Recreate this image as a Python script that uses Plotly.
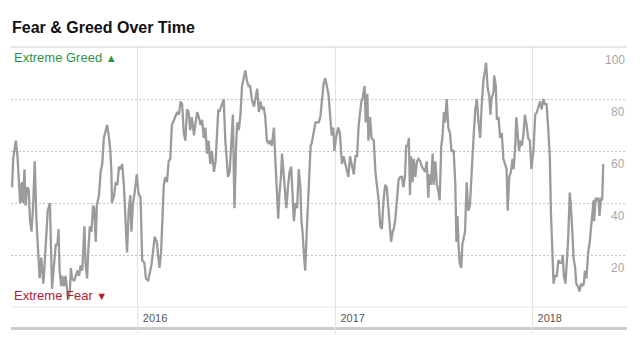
import plotly.graph_objects as go

# Fear & Greed index readings (month-day, value) grouped by year
days_2015 = ["05-13", "05-15", "05-20", "05-23", "05-26", "05-28", "05-31", "06-02", "06-05", "06-07",
             "06-10", "06-13", "06-15", "06-18", "06-21", "06-24", "06-27", "07-01", "07-03", "07-06",
             "07-08", "07-10", "07-13", "07-15", "07-18", "07-22", "07-24", "07-26", "07-30", "08-02",
             "08-05", "08-07", "08-09", "08-12", "08-14", "08-17", "08-20", "08-23", "08-25", "08-28",
             "08-30", "09-01", "09-05", "09-08", "09-11", "09-14", "09-17", "09-20", "09-24", "09-26",
             "09-29", "10-01", "10-04", "10-07", "10-10", "10-12", "10-15", "10-17", "10-21", "10-24",
             "10-27", "10-30", "11-03", "11-05", "11-08", "11-11", "11-13", "11-14", "11-18", "11-21",
             "11-24", "11-27", "11-30", "12-03", "12-06", "12-09", "12-12", "12-15", "12-18", "12-20",
             "12-23", "12-26", "12-30"]
fng_2015 = [46, 57, 64, 58, 47, 40, 48, 40, 53, 39,
            46, 45, 34, 29, 39, 56, 34, 20, 11, 19,
            14, 9, 19, 28, 37, 40, 24, 7, 17, 24,
            24, 30, 14, 8, 12, 8, 12, 7, 3, 6,
            15, 11, 10, 12, 14, 12, 16, 14, 31, 17,
            11, 21, 31, 29, 39, 38, 25, 39, 43, 52,
            55, 65, 68, 70, 66, 60, 52, 40, 43, 48,
            47, 54, 53, 55, 47, 31, 21, 37, 43, 29,
            40, 44, 51]

days_2016 = ["01-02", "01-06", "01-09", "01-13", "01-16", "01-20", "01-24", "01-26", "01-29", "02-01",
             "02-05", "02-08", "02-10", "02-13", "02-15", "02-18", "02-21", "02-24", "02-27", "03-01",
             "03-04", "03-08", "03-11", "03-14", "03-17", "03-20", "03-23", "03-26", "03-29", "04-01",
             "04-04", "04-07", "04-10", "04-14", "04-17", "04-20", "04-23", "04-26", "04-29", "05-02",
             "05-05", "05-08", "05-11", "05-14", "05-17", "05-21", "05-24", "05-27", "05-29", "05-31",
             "06-03", "06-05", "06-08", "06-11", "06-14", "06-16", "06-19", "06-21", "06-23", "06-25",
             "06-27", "06-28", "07-01", "07-03", "07-06", "07-09", "07-12", "07-16", "07-18", "07-21",
             "07-24", "07-27", "07-30", "08-03", "08-06", "08-09", "08-12", "08-15", "08-18", "08-21",
             "08-24", "08-27", "08-30", "09-02", "09-05", "09-09", "09-12", "09-15", "09-17", "09-19",
             "09-22", "09-24", "09-27", "09-30", "10-02", "10-05", "10-08", "10-11", "10-14", "10-16",
             "10-19", "10-22", "10-25", "10-28", "10-30", "11-01", "11-04", "11-06", "11-09", "11-12",
             "11-14", "11-16", "11-18", "11-22", "11-25", "11-28", "12-01", "12-04", "12-07", "12-10",
             "12-13", "12-16", "12-19", "12-22", "12-25", "12-28", "12-30"]
fng_2016 = [44, 42, 18, 17, 11, 10, 14, 16, 21, 27,
            25, 19, 15, 21, 31, 47, 50, 48, 56, 57,
            70, 72, 73, 75, 74, 79, 78, 67, 64, 76,
            75, 68, 73, 66, 71, 75, 73, 70, 72, 65,
            69, 59, 64, 55, 60, 52, 56, 66, 76, 75,
            77, 78, 80, 64, 56, 50, 52, 60, 66, 74,
            48, 38, 62, 71, 68, 74, 85, 89, 91, 87,
            85, 85, 80, 77, 80, 84, 75, 79, 76, 77,
            73, 64, 63, 64, 62, 69, 55, 44, 34, 43,
            50, 59, 50, 42, 38, 46, 52, 54, 42, 33,
            40, 38, 53, 46, 33, 29, 19, 14, 30, 44,
            52, 62, 63, 67, 71, 71, 71, 73, 80, 86,
            88, 85, 82, 74, 66, 69, 60]

days_2017 = ["01-02", "01-06", "01-09", "01-13", "01-16", "01-19", "01-22", "01-25", "01-28", "01-31",
             "02-04", "02-07", "02-10", "02-13", "02-16", "02-18", "02-20", "02-24", "02-26", "03-01",
             "03-03", "03-06", "03-09", "03-13", "03-16", "03-19", "03-22", "03-25", "03-28", "03-31",
             "04-03", "04-06", "04-09", "04-12", "04-14", "04-17", "04-19", "04-22", "04-25", "04-28",
             "05-01", "05-04", "05-07", "05-10", "05-12", "05-15", "05-17", "05-19", "05-21", "05-24",
             "05-26", "05-29", "06-01", "06-04", "06-07", "06-10", "06-13", "06-16", "06-19", "06-22",
             "06-24", "06-27", "06-30", "07-02", "07-05", "07-08", "07-11", "07-13", "07-16", "07-18",
             "07-21", "07-23", "07-26", "07-29", "08-01", "08-04", "08-08", "08-11", "08-13", "08-15",
             "08-17", "08-19", "08-22", "08-24", "08-27", "08-29", "09-01", "09-04", "09-07", "09-10",
             "09-14", "09-17", "09-20", "09-23", "09-26", "09-29", "10-02", "10-05", "10-07", "10-10",
             "10-13", "10-15", "10-17", "10-21", "10-22", "10-25", "10-27", "10-30", "11-02", "11-05",
             "11-08", "11-11", "11-14", "11-16", "11-19", "11-22", "11-25", "11-27", "11-30", "12-02",
             "12-05", "12-07", "12-10", "12-12", "12-15", "12-18", "12-21", "12-24", "12-27", "12-30"]
fng_2017 = [65, 69, 67, 55, 58, 55, 53, 50, 58, 55,
            51, 58, 58, 70, 75, 79, 80, 85, 71, 82,
            64, 73, 65, 64, 52, 46, 41, 31, 30, 41,
            47, 46, 38, 32, 25, 29, 30, 34, 41, 49,
            50, 50, 46, 51, 62, 62, 65, 43, 58, 48,
            57, 50, 56, 57, 56, 54, 53, 52, 56, 42,
            51, 47, 59, 47, 56, 47, 44, 41, 62, 65,
            75, 71, 80, 69, 67, 60, 60, 47, 25, 35,
            24, 17, 15, 24, 27, 29, 48, 37, 39, 52,
            66, 76, 80, 71, 65, 78, 87, 91, 94, 84,
            81, 74, 80, 83, 89, 85, 72, 73, 65, 67,
            57, 55, 53, 37, 50, 52, 57, 53, 62, 73,
            66, 60, 64, 62, 66, 74, 70, 65, 64, 53]

days_2018 = ["01-03", "01-06", "01-09", "01-12", "01-15", "01-18", "01-21", "01-24", "01-27", "01-30",
             "02-02", "02-04", "02-07", "02-09", "02-12", "02-15", "02-18", "02-21", "02-24", "02-26",
             "02-28", "03-03", "03-06", "03-08", "03-11", "03-13", "03-16", "03-18", "03-21", "03-23",
             "03-26", "03-29", "04-01", "04-03", "04-06", "04-08", "04-11", "04-14", "04-17", "04-20",
             "04-24", "04-25", "04-28", "04-30", "05-03", "05-05", "05-08", "05-10", "05-12"]
fng_2018 = [61, 74, 75, 77, 79, 76, 80, 78, 78, 69,
            58, 37, 17, 9, 12, 12, 18, 17, 17, 20,
            12, 9, 19, 26, 44, 39, 28, 19, 15, 9,
            8, 6, 9, 8, 9, 14, 11, 21, 25, 33,
            41, 33, 42, 41, 42, 35, 42, 41, 55]

year_ticks = ["2016-01-01", "2017-01-01", "2018-01-01"]
year_labels = ["2016", "2017", "2018"]
value_ticks = [20, 40, 60, 80, 100]
x_range = ["2015-05-11", "2018-06-25"]

dates = ([f"2015-{d}" for d in days_2015] + [f"2016-{d}" for d in days_2016]
         + [f"2017-{d}" for d in days_2017] + [f"2018-{d}" for d in days_2018])
values = fng_2015 + fng_2016 + fng_2017 + fng_2018

FONT = "Liberation Sans, Arial, Helvetica, sans-serif"

fig = go.Figure()
fig.add_trace(go.Scatter(
    x=dates, y=values, mode="lines",
    line=dict(color="#9b9b9b", width=2.3),
    hoverinfo="skip", showlegend=False,
))

shapes = [
    # solid rule along the top (100) and the base line (0)
    dict(type="line", xref="paper", yref="paper", x0=0, x1=1, y0=1, y1=1,
         line=dict(color="#cfcfcf", width=1)),
    dict(type="line", xref="paper", yref="paper", x0=0, x1=1, y0=0, y1=0,
         line=dict(color="#e4e4e4", width=1)),
    # heavier rule under the year labels
    dict(type="line", xref="paper", yref="paper", x0=0, x1=1, y0=-0.083, y1=-0.083,
         line=dict(color="#cccccc", width=3)),
]
# year separators run down through the label band
for t in year_ticks:
    shapes.append(dict(type="line", xref="x", yref="paper", x0=t, x1=t, y0=-0.104, y1=0,
                       line=dict(color="#e3e3e3", width=1)))

# value labels sit just under their gridline at the right edge
annotations = [
    dict(text=str(v), xref="paper", yref="y", x=1, y=v, xanchor="right", yanchor="middle",
         yshift=-13, showarrow=False, font=dict(family=FONT, size=12, color="#a8a8a8"))
    for v in value_ticks
]
annotations += [
    dict(text="Extreme Greed <span style='font-size:11px'>▲</span>", xref="paper", yref="paper",
         x=0, y=0.958, xanchor="left", yanchor="middle", xshift=1, showarrow=False,
         font=dict(family=FONT, size=13, color="#2f9446")),
    dict(text="Extreme Fear <span style='font-size:11px'>▼</span>", xref="paper", yref="paper",
         x=0, y=0.044, xanchor="left", yanchor="middle", xshift=1, showarrow=False,
         font=dict(family=FONT, size=13, color="#b5202e")),
]

fig.update_layout(
    width=640, height=341,
    margin=dict(l=11, r=13, t=47, b=34),
    paper_bgcolor="white", plot_bgcolor="white",
    font=dict(family=FONT),
    title=dict(text="<b>Fear & Greed Over Time</b>", x=12 / 640, xanchor="left", xref="container",
               y=1 - 27 / 341, yanchor="middle", yref="container",
               font=dict(family=FONT, size=16, color="#111111")),
    xaxis=dict(type="date", range=x_range, tickvals=year_ticks, ticktext=year_labels,
               showgrid=True, gridcolor="#e3e3e3", gridwidth=1, ticks="",
               ticklabelposition="outside right", ticklabelshift=5, ticklabelstandoff=3,
               zeroline=False, showline=False,
               tickfont=dict(size=11, color="#555555", family=FONT), fixedrange=True),
    yaxis=dict(range=[0, 100], tickvals=value_ticks, showticklabels=False, ticks="",
               showgrid=True, gridcolor="#c2c2c2", gridwidth=1, griddash="2px,2px",
               zeroline=False, showline=False, fixedrange=True),
    shapes=shapes,
    annotations=annotations,
)

fig.write_html("out.html")
